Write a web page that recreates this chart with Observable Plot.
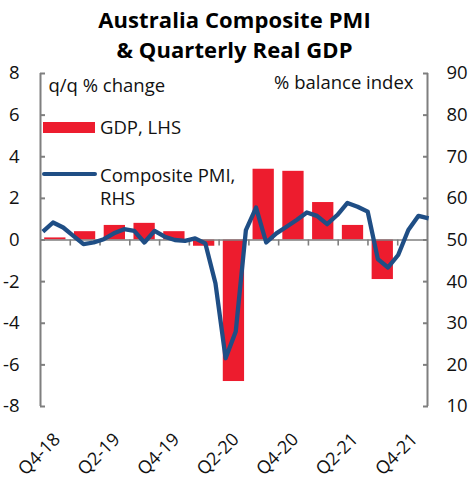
<!DOCTYPE html>
<html>
<head>
<meta charset="utf-8">
<script src="https://cdn.jsdelivr.net/npm/d3@7"></script>
<script src="https://cdn.jsdelivr.net/npm/@observablehq/plot@0.6"></script>
<style>
  body { margin: 0; background: #fff; }
  #wrap { position: relative; width: 469px; height: 479px; font-family: "Open Sans", sans-serif; color: #111; overflow: hidden; }
  #title { box-sizing: border-box; height: 60px; padding-top: 4px; text-align: center; font-weight: 700; font-size: 22px; line-height: 30px; color: #000; letter-spacing: 0.1px; }
  .leg { position: absolute; font-size: 18.5px; line-height: 23px; white-space: nowrap; color: #111; }
  .sw { position: absolute; }
</style>
</head>
<body>
<div id="wrap">
  <div id="title">Australia Composite PMI<br>&amp; Quarterly Real GDP</div>
  <div id="chart"></div>
  <div class="sw" style="left:43px;top:122px;width:52px;height:11px;background:#ed1c2e"></div>
  <div class="leg" style="left:100px;top:115px;">GDP, LHS</div>
  <div class="sw" style="left:42px;top:172px;width:55px;height:4px;border-radius:2px;background:#1f4e85"></div>
  <div class="leg" style="left:100px;top:163px;">Composite PMI,<br>RHS</div>
</div>
<script>
// Quarterly real GDP, q/q % change (LHS)
const quarters = ["Q4-18","Q1-19","Q2-19","Q3-19","Q4-19","Q1-20","Q2-20","Q3-20","Q4-20","Q1-21","Q2-21","Q3-21","Q4-21"];
const gdp = [0.1, 0.4, 0.7, 0.8, 0.4, -0.3, -6.8, 3.4, 3.3, 1.8, 0.7, -1.9, null];

// Monthly composite PMI (RHS), Oct-18 .. Dec-21
const months = ["Oct-18","Nov-18","Dec-18","Jan-19","Feb-19","Mar-19","Apr-19","May-19","Jun-19","Jul-19","Aug-19","Sep-19",
  "Oct-19","Nov-19","Dec-19","Jan-20","Feb-20","Mar-20","Apr-20","May-20","Jun-20","Jul-20","Aug-20","Sep-20",
  "Oct-20","Nov-20","Dec-20","Jan-21","Feb-21","Mar-21","Apr-21","May-21","Jun-21","Jul-21","Aug-21","Sep-21",
  "Oct-21","Nov-21","Dec-21"];
const pmi = [52.0, 54.2, 53.0, 51.0, 49.0, 49.4, 50.2, 51.6, 52.6, 52.2, 49.4, 52.2,
  50.8, 50.0, 49.8, 50.4, 49.2, 39.6, 21.6, 28.0, 52.4, 57.8, 49.4, 51.6,
  53.2, 54.8, 56.6, 55.8, 53.8, 56.0, 58.9, 58.0, 56.8, 45.4, 43.4, 46.4,
  52.4, 55.8, 55.2];

const leftTicks = [-8, -6, -4, -2, 0, 2, 4, 6, 8];
const rightTicks = [10, 20, 30, 40, 50, 60, 70, 80, 90];
const xLabels = ["Q4-18","Q2-19","Q4-19","Q2-20","Q4-20","Q2-21","Q4-21"];

const RED = "#ed1c2e", BLUE = "#1f4e85", GRAY = "#7f7f7f";

const gdpRows = quarters.map((q, i) => ({q, i, v: gdp[i]})).filter(d => d.v != null);
const pmiRows = months.map((m, i) => ({m, i, v: pmi[i]}));
// right axis maps onto the left scale: 50 <-> 0, 10 units <-> 2
const toLeft = v => (v - 50) / 5;
const boundaries = d3.range(1, quarters.length);

const chart = Plot.plot({
  width: 469,
  height: 419,
  marginLeft: 40,
  marginRight: 42,
  marginTop: 13,
  marginBottom: 73,
  x: {domain: [0, quarters.length], axis: null},
  y: {domain: [-8, 8], axis: null},
  style: {fontFamily: "Open Sans, sans-serif", fontSize: "18px", color: "#111", background: "white", overflow: "visible"},
  marks: [
    Plot.rectY(gdpRows, {x1: d => d.i + 0.14, x2: d => d.i + 0.855, y: "v", fill: RED}),
    Plot.ruleX(boundaries, {x: d => d, y1: 0, y2: -0.29, stroke: GRAY, strokeWidth: 1.6}),
    Plot.ruleY([0], {stroke: GRAY, strokeWidth: 1.6}),
    Plot.ruleX([0, quarters.length], {stroke: GRAY, strokeWidth: 2}),
    Plot.axisY(leftTicks, {anchor: "left", label: null, tickSize: -5, tickPadding: 26, stroke: GRAY, strokeWidth: 2, fill: "#111", fontSize: 18.5, tickFormat: d => String(d)}),
    Plot.axisY(rightTicks.map(toLeft), {anchor: "right", label: null, tickSize: -5, tickPadding: 24, stroke: GRAY, strokeWidth: 2, fill: "#111", fontSize: 18.5, tickFormat: d => String(d * 5 + 50)}),
    Plot.line(pmiRows, {x: d => 0.08 + d.i * 0.341, y: d => toLeft(d.v), stroke: BLUE, strokeWidth: 4.3, strokeLinejoin: "round", strokeLinecap: "butt"}),
    Plot.text(xLabels, {x: d => quarters.indexOf(d) + 0.5, frameAnchor: "bottom", rotate: -45, textAnchor: "end", lineAnchor: "bottom", dx: 6, dy: 34, fontSize: 18, fill: "#111"}),
    Plot.text(["q/q % change"], {frameAnchor: "top-left", textAnchor: "start", lineAnchor: "bottom", dx: 8, dy: 18, fontSize: 18.5, fill: "#111"}),
    Plot.text(["% balance index"], {frameAnchor: "top-right", textAnchor: "end", lineAnchor: "bottom", dx: -14, dy: 15, fontSize: 18.5, fill: "#111"})
  ]
});
document.getElementById("chart").appendChild(chart);
</script>
</body>
</html>
